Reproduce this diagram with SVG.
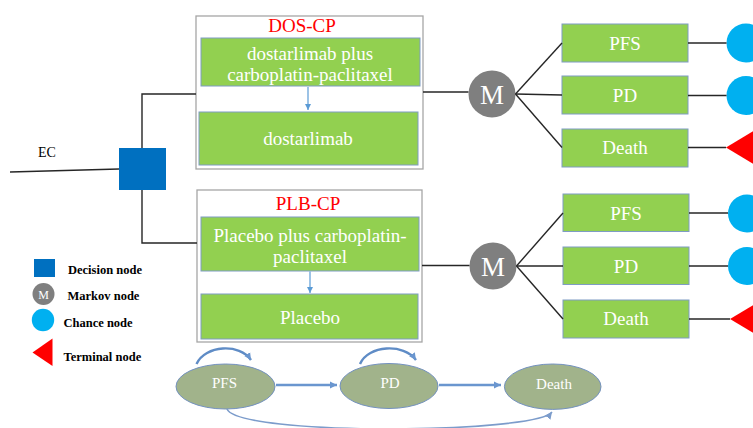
<svg xmlns="http://www.w3.org/2000/svg" width="753" height="428" viewBox="0 0 753 428">
<style>
  .serif{font-family:"Liberation Serif","Times New Roman",serif;}
  .wt{fill:#fff;font-family:"Liberation Serif","Times New Roman",serif;font-size:19px;text-anchor:middle;}
  .title{fill:#ff0000;font-family:"Liberation Serif","Times New Roman",serif;font-size:19px;text-anchor:middle;}
  .outer{fill:#fff;stroke:#a6a6a6;stroke-width:1.3;}
  .gbox{fill:#92d050;stroke:#7f9cc4;stroke-width:1;}
  .mk{fill:#7f7f7f;}
  .mt{fill:#fff;font-family:"Liberation Serif","Times New Roman",serif;font-size:27px;text-anchor:middle;}
  .chance{fill:#00b0f0;}
  .term{fill:#ff0000;}
  .line{stroke:#262626;stroke-width:1.4;fill:none;}
  .thin{stroke:#5b9bd5;stroke-width:1.2;fill:none;}
  .ell{fill:#a1b38b;stroke:#7391bf;stroke-width:1;}
  .et{fill:#fff;font-family:"Liberation Serif","Times New Roman",serif;font-size:15px;text-anchor:middle;}
  .sarrow{stroke:#6a96cf;stroke-width:2.6;fill:none;}
  .loop{stroke:#5f8cc6;stroke-width:2.4;fill:none;}
  .arc{stroke:#7c9ccb;stroke-width:1.6;fill:none;}
  .leg{fill:#000;font-family:"Liberation Serif","Times New Roman",serif;font-size:12.5px;font-weight:bold;}
</style>
<defs>
  <marker id="ah" markerWidth="8" markerHeight="8" refX="6" refY="4" orient="auto" markerUnits="userSpaceOnUse">
    <path d="M0,1 L6,4 L0,7 Z" fill="#5b9bd5"/>
  </marker>
  <marker id="ah2" markerWidth="10" markerHeight="10" refX="7" refY="5" orient="auto" markerUnits="userSpaceOnUse">
    <path d="M0,1.5 L7,5 L0,8.5 Z" fill="#6a96cf"/>
  </marker>
  <marker id="ah3" markerWidth="10" markerHeight="10" refX="7" refY="5" orient="auto" markerUnits="userSpaceOnUse">
    <path d="M0,1.5 L7,5 L0,8.5 Z" fill="#7c9ccb"/>
  </marker>
</defs>

<g id="ec-label"><text class="serif" x="47" y="157" font-size="14" text-anchor="middle">EC</text></g>
<g id="decision"><rect x="119" y="148" width="47" height="42" fill="#0070c0"/></g>

<g id="dos-cp">
  <rect class="outer" x="196" y="16" width="227" height="153"/>
  <text class="title" x="302" y="32">DOS-CP</text>
  <rect class="gbox" x="201" y="38" width="219" height="48"/>
  <text class="wt" x="310" y="59.5">dostarlimab plus</text>
  <text class="wt" x="310" y="81">carboplatin-paclitaxel</text>
  <rect class="gbox" x="199" y="112" width="219" height="53"/>
  <text class="wt" x="308" y="145">dostarlimab</text>
</g>

<g id="plb-cp">
  <rect class="outer" x="197" y="190" width="225" height="152"/>
  <text class="title" x="308" y="210">PLB-CP</text>
  <rect class="gbox" x="201" y="217" width="218" height="54"/>
  <text class="wt" x="310" y="241.5">Placebo plus carboplatin-</text>
  <text class="wt" x="310" y="263">paclitaxel</text>
  <rect class="gbox" x="201" y="294" width="217" height="45"/>
  <text class="wt" x="310" y="324">Placebo</text>
</g>

<g id="markov1"><circle class="mk" cx="492" cy="94" r="23.5"/><text class="mt" x="492" y="103.5">M</text></g>
<g id="markov2"><circle class="mk" cx="493" cy="266" r="23.5"/><text class="mt" x="493" y="275.5">M</text></g>

<g id="pfs1"><rect class="gbox" x="562" y="24" width="126" height="38"/><text class="wt" x="625" y="49.5">PFS</text></g>
<g id="pd1"><rect class="gbox" x="562" y="76" width="126" height="38"/><text class="wt" x="625" y="101.5">PD</text></g>
<g id="death1"><rect class="gbox" x="562" y="129" width="126" height="38"/><text class="wt" x="625" y="154">Death</text></g>
<g id="pfs2"><rect class="gbox" x="563" y="194" width="126" height="37.5"/><text class="wt" x="626" y="219.5">PFS</text></g>
<g id="pd2"><rect class="gbox" x="563" y="247" width="126" height="37.5"/><text class="wt" x="626" y="272.5">PD</text></g>
<g id="death2"><rect class="gbox" x="563" y="300" width="126" height="38"/><text class="wt" x="626" y="325">Death</text></g>

<g id="chance1"><circle class="chance" cx="746" cy="43" r="19.5"/></g>
<g id="chance2"><circle class="chance" cx="746" cy="95.5" r="19.5"/></g>
<g id="terminal1"><polygon class="term" points="726,147.5 770,121 770,174"/></g>
<g id="chance3"><circle class="chance" cx="747" cy="213.5" r="19"/></g>
<g id="chance4"><circle class="chance" cx="747" cy="266" r="19"/></g>
<g id="terminal2"><polygon class="term" points="730,319 774,292.5 774,345.5"/></g>

<g id="legend">
  <rect x="34" y="259" width="21" height="18" fill="#0070c0"/>
  <text class="leg" x="68" y="273.5">Decision node</text>
  <circle class="mk" cx="43.5" cy="294" r="11"/>
  <text x="43.5" y="298.5" fill="#fff" font-family="Liberation Serif, serif" font-size="12" text-anchor="middle">M</text>
  <text class="leg" x="67.5" y="299.5">Markov node</text>
  <circle class="chance" cx="43" cy="320" r="11.2"/>
  <text class="leg" x="63.5" y="327">Chance node</text>
  <polygon class="term" points="32.5,352.5 52.5,338.5 52.5,366"/>
  <text class="leg" x="63.5" y="361">Terminal node</text>
</g>

<g id="state-pfs"><ellipse class="ell" cx="225.5" cy="386.5" rx="49.5" ry="22.5"/><text class="et" x="224.5" y="388">PFS</text></g>
<g id="state-pd"><ellipse class="ell" cx="389" cy="386" rx="49" ry="22.5"/><text class="et" x="390" y="388">PD</text></g>
<g id="state-death"><ellipse class="ell" cx="552.7" cy="386.7" rx="48.3" ry="22.7"/><text class="et" x="554" y="389">Death</text></g>

<g id="connectors">
  <path class="line" d="M10,172 L119,169"/>
  <path class="line" d="M142,148 L142,94 L196,94"/>
  <path class="line" d="M142,190 L142,243 L197,243"/>
  <path class="line" d="M423,92 L468.5,92"/>
  <path class="line" d="M422,265.5 L469.5,265.5"/>
  <path class="line" d="M515.5,94 L562,43"/>
  <path class="line" d="M515.5,94 L562,95"/>
  <path class="line" d="M515.5,94 L562,147.5"/>
  <path class="line" d="M516.5,266 L563,213"/>
  <path class="line" d="M516.5,266 L563,266"/>
  <path class="line" d="M516.5,266 L563,319"/>
  <path class="line" d="M688,43 L726.5,43"/>
  <path class="line" d="M688,95.5 L726.5,95.5"/>
  <path class="line" d="M688,147.5 L726,147.5"/>
  <path class="line" d="M689,213 L728,213"/>
  <path class="line" d="M689,266 L728,266"/>
  <path class="line" d="M689,319 L730,319"/>
  <path class="thin" d="M308,87 L308,110" marker-end="url(#ah)"/>
  <path class="thin" d="M310,271.5 L310,293" marker-end="url(#ah)"/>
  <path class="sarrow" d="M276,385 L337,385" marker-end="url(#ah2)"/>
  <path class="sarrow" d="M439,385 L501,385" marker-end="url(#ah2)"/>
  <path class="loop" d="M196.5,364 C205,345 240,343 251,360" marker-end="url(#ah2)"/>
  <path class="loop" d="M360,364 C368,345 404,343 416,360" marker-end="url(#ah2)"/>
  <path class="arc" d="M227,409 C238,436 535,434 552,412" marker-end="url(#ah3)"/>
</g>
</svg>
